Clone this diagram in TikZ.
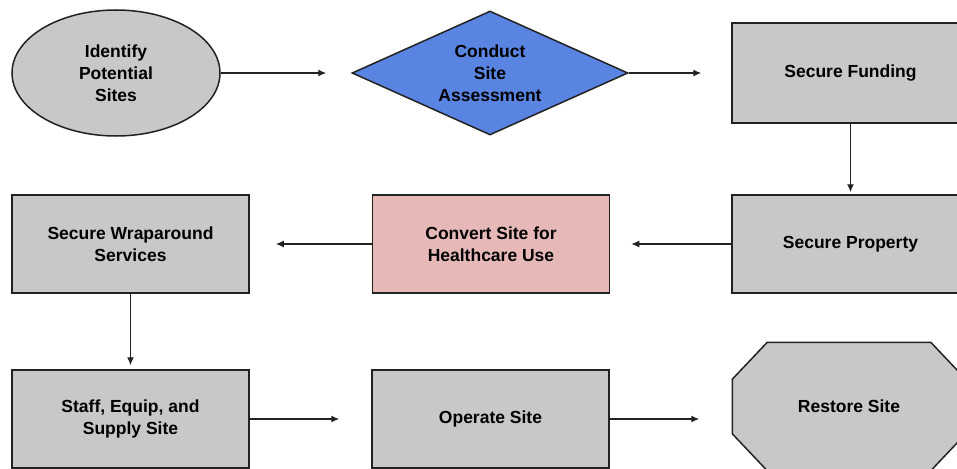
\documentclass[tikz,border=0pt]{standalone}
\usepackage{fontspec}
\setmainfont{Liberation Sans}
\usetikzlibrary{arrows.meta,shapes.geometric,backgrounds}
\tikzset{>={Latex[width=7pt,length=8pt]}}
\definecolor{boxgray}{RGB}{200,200,200}
\definecolor{assessblue}{RGB}{90,132,226}
\definecolor{convertpink}{RGB}{230,185,184}
\definecolor{edgegray}{RGB}{34,34,34}
\tikzset{
  stage/.style={draw=edgegray, line width=1.5pt, fill=boxgray, minimum width=237pt,
    minimum height=98pt, align=center, inner sep=0pt,
    font=\bfseries\fontsize{17.5}{22}\selectfont},
  flow/.style={->, draw=edgegray, line width=1.3pt}
}

\begin{document}
\begin{tikzpicture}[x=1pt, y=-1pt]

  \clip (0,0) rectangle (957,468);

  % top row
  \node[stage, ellipse, minimum width=208pt, minimum height=126pt] (identify) at (116,73) {Identify\\Potential\\Sites};
  \node[stage, diamond, fill=assessblue, shape aspect=2.226, minimum width=276pt, minimum height=124pt] (assess) at (490,73) {Conduct\\Site\\Assessment};
  \node[stage, minimum height=100pt] (funding) at (850.5,73) {Secure Funding};

  % middle row
  \node[stage] (property) at (850.5,244) {Secure Property};
  \node[stage, fill=convertpink] (convert) at (491,244) {Convert Site for\\Healthcare Use};
  \node[stage] (wrap) at (130.5,244) {Secure Wraparound\\Services};

  % bottom row
  \node[stage] (staff) at (130.5,419) {Staff, Equip, and\\Supply Site};
  \node[stage] (operate) at (490.5,419) {Operate Site};
  \node[stage, draw=none, fill=none, minimum width=232pt, minimum height=127pt] (restore) at (849,406.5) {Restore Site};
  \begin{scope}[on background layer]
    \draw[draw=edgegray, line width=1.5pt, fill=boxgray]
      ([xshift=35pt]restore.north west) -- ([xshift=-35pt]restore.north east)
      -- ([yshift=-37pt]restore.north east) -- ([yshift=37pt]restore.south east)
      -- ([xshift=-35pt]restore.south east) -- ([xshift=35pt]restore.south west)
      -- ([yshift=37pt]restore.south west) -- ([yshift=-37pt]restore.north west) -- cycle;
  \end{scope}

  \draw[flow, shorten >=25pt] (identify) -- (assess);
  \draw[flow, shorten >=30pt] (assess) -- (funding);
  \draw[flow, shorten >=2pt] (funding) -- (property);
  \draw[flow, shorten >=21pt] (property) -- (convert);
  \draw[flow, shorten >=26pt] (convert) -- (wrap);
  \draw[flow, shorten >=4pt] (wrap) -- (staff);
  \draw[flow, shorten >=32pt] (staff) -- (operate);
  \draw[flow, shorten >=33pt] (operate) -- (operate -| restore.west);

\end{tikzpicture}
\end{document}
